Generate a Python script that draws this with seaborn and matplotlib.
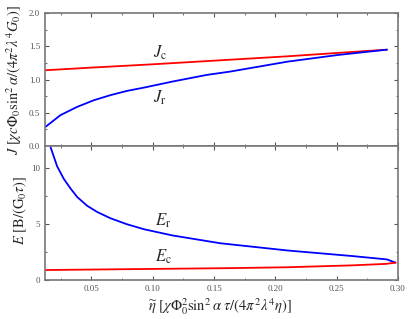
import numpy as np
import pandas as pd
import seaborn as sns
import matplotlib.pyplot as plt
from matplotlib.ticker import MultipleLocator, FormatStrFormatter

# Values
eta_jc = [0.012, 0.05, 0.10, 0.155, 0.21, 0.25, 0.291]
j_c = [1.14, 1.18, 1.23, 1.29, 1.35, 1.40, 1.45]

eta_jr = [0.0126, 0.0248, 0.0384, 0.052, 0.0657, 0.079, 0.093, 0.116,
          0.144, 0.163, 0.21, 0.251, 0.291]
j_r = [0.29, 0.466, 0.59, 0.69, 0.767, 0.83, 0.88, 0.97,
       1.07, 1.12, 1.27, 1.37, 1.45]

eta_er = [0.0167, 0.022, 0.0275, 0.033, 0.0384, 0.0466, 0.0547, 0.0657,
          0.079, 0.093, 0.116, 0.155, 0.21, 0.263, 0.291, 0.298]
e_r = [11.9, 10.2, 9.06, 8.2, 7.44, 6.65, 6.1, 5.53,
       5.0, 4.55, 4.0, 3.3, 2.65, 2.15, 1.85, 1.56]

eta_ec = [0.012, 0.10, 0.163, 0.21, 0.263, 0.29, 0.298]
e_c = [0.9, 1.0, 1.07, 1.15, 1.32, 1.45, 1.56]

sns.set_style("ticks")
plt.rcParams['font.family'] = ['Liberation Serif', 'DejaVu Serif']
plt.rcParams['mathtext.fontset'] = 'stix'

fig = plt.figure(figsize=(4.15, 3.19), dpi=100)
ax1 = fig.add_axes([0.108, 0.542, 0.851, 0.417])
ax2 = fig.add_axes([0.108, 0.122, 0.851, 0.420])

jc = pd.DataFrame({'eta': eta_jc, 'v': j_c})
jr = pd.DataFrame({'eta': eta_jr, 'v': j_r})
er = pd.DataFrame({'eta': eta_er, 'v': e_r})
ec = pd.DataFrame({'eta': eta_ec, 'v': e_c})

sns.lineplot(data=jc, x='eta', y='v', ax=ax1, color='red', lw=1.3, sort=False)
sns.lineplot(data=jr, x='eta', y='v', ax=ax1, color='blue', lw=1.3, sort=False)
sns.lineplot(data=er, x='eta', y='v', ax=ax2, color='blue', lw=1.3, sort=False)
sns.lineplot(data=ec, x='eta', y='v', ax=ax2, color='red', lw=1.3, sort=False)

ax1.set_xlim(0.012, 0.30)
ax2.set_xlim(0.012, 0.30)
ax1.set_ylim(0, 2.0)
ax2.set_ylim(0, 12)

ax1.yaxis.set_major_locator(MultipleLocator(0.5))
ax1.yaxis.set_minor_locator(MultipleLocator(0.25))
ax1.yaxis.set_major_formatter(FormatStrFormatter('%.1f'))
ax2.yaxis.set_major_locator(MultipleLocator(5))
ax2.yaxis.set_minor_locator(MultipleLocator(2.5))
ax2.yaxis.set_major_formatter(FormatStrFormatter('%d'))
for ax in (ax1, ax2):
    ax.xaxis.set_major_locator(MultipleLocator(0.05))
    ax.xaxis.set_minor_locator(MultipleLocator(0.025))
    ax.xaxis.set_major_formatter(FormatStrFormatter('%.2f'))
    ax.tick_params(which='both', direction='in', top=True, right=True,
                   labelsize=6.5, labelcolor='#555555', color='#555555')
    ax.tick_params(which='major', length=3, width=0.8)
    ax.tick_params(which='minor', length=1.5, width=0.6)
    for s in ax.spines.values():
        s.set_color('#777777')
        s.set_linewidth(1.2)
        s.set_visible(True)
    ax.set_xlabel('')
    ax.set_ylabel('')

ax1.tick_params(labelbottom=False)

ax1.text(0.100, 1.33, r'$J_{\mathrm{c}}$', fontsize=12)
ax1.text(0.100, 0.66, r'$J_{\mathrm{r}}$', fontsize=12)
ax2.text(0.102, 4.85, r'$E_{\mathrm{r}}$', fontsize=12)
ax2.text(0.102, 1.7, r'$E_{\mathrm{c}}$', fontsize=12)

fig.text(0.035, 0.75, r'$J\ [\chi c\Phi_0 \sin^2\alpha/(4\pi^2\lambda^4 G_0)]$',
         rotation=90, ha='center', va='center', fontsize=10.5)
fig.text(0.05, 0.34, r'$E\ [\mathrm{B}/(\mathrm{G}_0\tau)]$',
         rotation=90, ha='center', va='center', fontsize=10.5)
fig.text(0.53, 0.04,
         r'$\widetilde{\eta}\ [\chi\Phi_0^2\sin^2\alpha\ \tau/(4\pi^2\lambda^4\eta)]$',
         ha='center', va='center', fontsize=10.5)

fig.savefig('out.png', dpi=100)
